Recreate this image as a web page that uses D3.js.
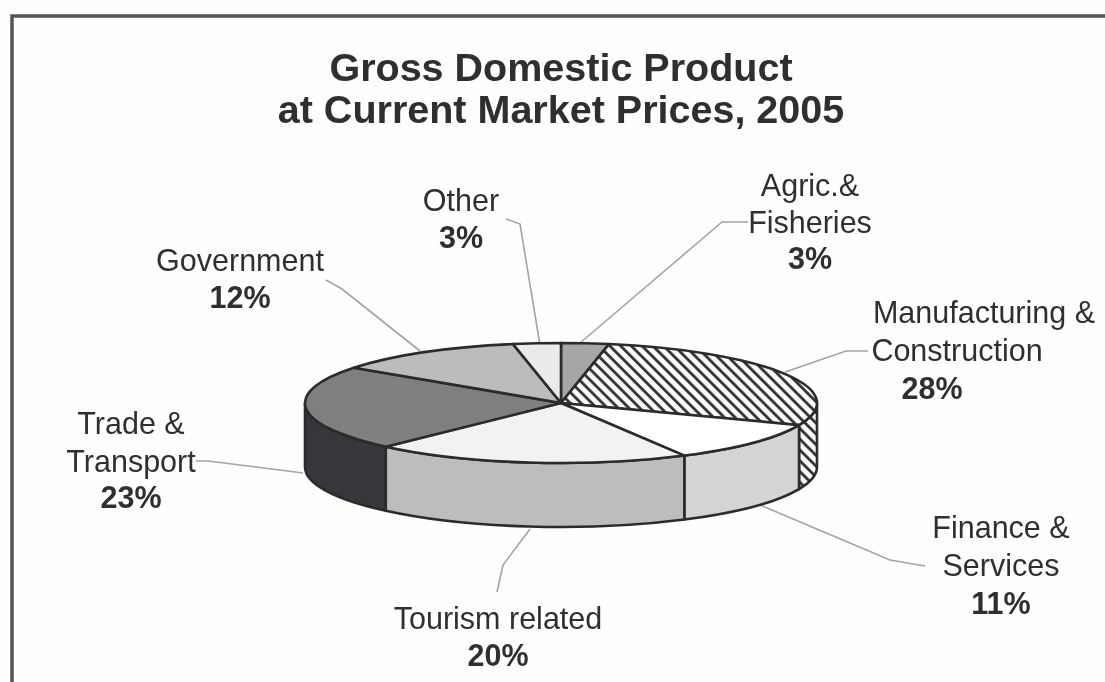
<!DOCTYPE html>
<html>
<head>
<meta charset="utf-8">
<script src="https://cdn.jsdelivr.net/npm/d3@7"></script>
<style>
  html, body { margin: 0; padding: 0; background: #fefefd; }
  svg { display: block; filter: blur(0.55px); }
  text { font-family: "Liberation Sans", Arial, sans-serif; fill: #2f2f2f; }
</style>
</head>
<body>
<svg id="chart" width="1105" height="682"></svg>
<script>
// Chart data
const categories = ["Agric.& Fisheries", "Manufacturing & Construction", "Finance & Services", "Tourism related", "Trade & Transport", "Government", "Other"];
const shares = [3, 28, 11, 20, 23, 12, 3];
const titleLines = ["Gross Domestic Product", "at Current Market Prices, 2005"];

// Slice styles, same order as categories
const topFills = ["#a6a6a6", "url(#hatch)", "#ffffff", "#f2f2f2", "#7f7f7f", "#bcbcbc", "#ebebeb"];
const sideFills = ["#8a8a8a", "url(#hatch)", "#d4d4d4", "#bdbdbd", "#37373b", "#8a8a8a", "#bbbbbb"];

// Label layout: [text, x, y, bold]
const labelLayout = [
  [["Agric.&", 810, 196], ["Fisheries", 810, 233], ["3%", 810, 269, true]],
  [["Manufacturing &", 984, 323], ["Construction", 957, 361], ["28%", 932, 399, true]],
  [["Finance &", 1001, 538], ["Services", 1001, 576], ["11%", 1001, 614, true]],
  [["Tourism related", 498, 629], ["20%", 498, 666, true]],
  [["Trade &", 131, 434], ["Transport", 131, 472], ["23%", 131, 508, true]],
  [["Government", 240, 271], ["12%", 240, 308, true]],
  [["Other", 461, 211], ["3%", 461, 248, true]]
];

// Leader lines: where they leave the pie, then the elbow and end by the label
const leaderLayout = [
  [[580, 343], [722, 222], [748, 222]],
  [[785, 372], [846, 351], [868, 351]],
  [[760, 505], [890, 560], [925, 566]],
  [[530, 529], [503, 565], [497, 592]],
  [[303, 473], [208, 461], [196, 461]],
  [[420, 351], [342, 289], [326, 280]],
  [[540, 345], [520, 224], [506, 219]]
];

const cx = 561, cy = 403, rx = 256, ry = 60, depth = 64;

const svg = d3.select("#chart");

// Hatch pattern for the manufacturing slice
const hatch = svg.append("defs").append("pattern")
  .attr("id", "hatch")
  .attr("patternUnits", "userSpaceOnUse")
  .attr("width", 7.6)
  .attr("height", 7.6)
  .attr("patternTransform", "rotate(45)");
hatch.append("rect").attr("width", 7.6).attr("height", 7.6).attr("fill", "#fbfbfb");
hatch.append("rect").attr("width", 7.6).attr("height", 2.8).attr("y", 2).attr("fill", "#333");

// Frame, open on the right and at the bottom
svg.append("path")
  .attr("d", "M12,690V16H1115")
  .attr("fill", "none")
  .attr("stroke", "#555")
  .attr("stroke-width", 3.5);

// Title
svg.selectAll(".title")
  .data(titleLines)
  .enter().append("text")
  .attr("class", "title")
  .attr("x", cx)
  .attr("y", (d, i) => 81 + i * 42)
  .attr("text-anchor", "middle")
  .style("font-size", "39.5px")
  .style("font-weight", "bold")
  .text(d => d);

// Pie angles, clockwise from the top
const pie = d3.pie().value(d => d.share).sort(null);
const slices = pie(categories.map((name, i) => ({ name, share: shares[i], top: topFills[i], side: sideFills[i] })));

const xScale = d3.scaleLinear().domain([-1, 1]).range([cx - rx, cx + rx]);
const yScale = d3.scaleLinear().domain([-1, 1]).range([cy - ry, cy + ry]);

function rim(angle, drop) {
  return [xScale(Math.sin(angle)), yScale(-Math.cos(angle)) + drop];
}

function topPath(d) {
  const a = rim(d.startAngle, 0), b = rim(d.endAngle, 0);
  return `M${cx},${cy}L${a}A${rx},${ry} 0 0 1 ${b}Z`;
}

// Only the front half of the wall can be seen
function sidePath(d) {
  const start = Math.max(d.startAngle, Math.PI / 2);
  const end = Math.min(d.endAngle, Math.PI * 1.5);
  if (end <= start) return null;
  const a = rim(start, 0), b = rim(end, 0), c = rim(end, depth), e = rim(start, depth);
  return `M${a}A${rx},${ry} 0 0 1 ${b}L${c}A${rx},${ry} 0 0 0 ${e}Z`;
}

// Leader lines
svg.selectAll(".leader")
  .data(leaderLayout)
  .enter().append("path")
  .attr("class", "leader")
  .attr("d", d3.line())
  .attr("fill", "none")
  .attr("stroke", "#a3a3a3")
  .attr("stroke-width", 1.6);

// Side walls
svg.selectAll(".side")
  .data(slices.filter(sidePath))
  .enter().append("path")
  .attr("class", "side")
  .attr("d", sidePath)
  .attr("fill", d => d.data.side)
  .attr("stroke", "#2b2b2b")
  .attr("stroke-width", 2.6)
  .attr("stroke-linejoin", "round");

// Top faces
svg.selectAll(".top")
  .data(slices)
  .enter().append("path")
  .attr("class", "top")
  .attr("d", topPath)
  .attr("fill", d => d.data.top)
  .attr("stroke", "#2b2b2b")
  .attr("stroke-width", 2.6)
  .attr("stroke-linejoin", "round");

// Labels
labelLayout.forEach(lines => {
  lines.forEach(line => {
    svg.append("text")
      .attr("x", line[1])
      .attr("y", line[2])
      .attr("text-anchor", "middle")
      .style("font-size", "30.5px")
      .style("font-weight", line[3] ? "bold" : "normal")
      .text(line[0]);
  });
});
</script>
</body>
</html>
